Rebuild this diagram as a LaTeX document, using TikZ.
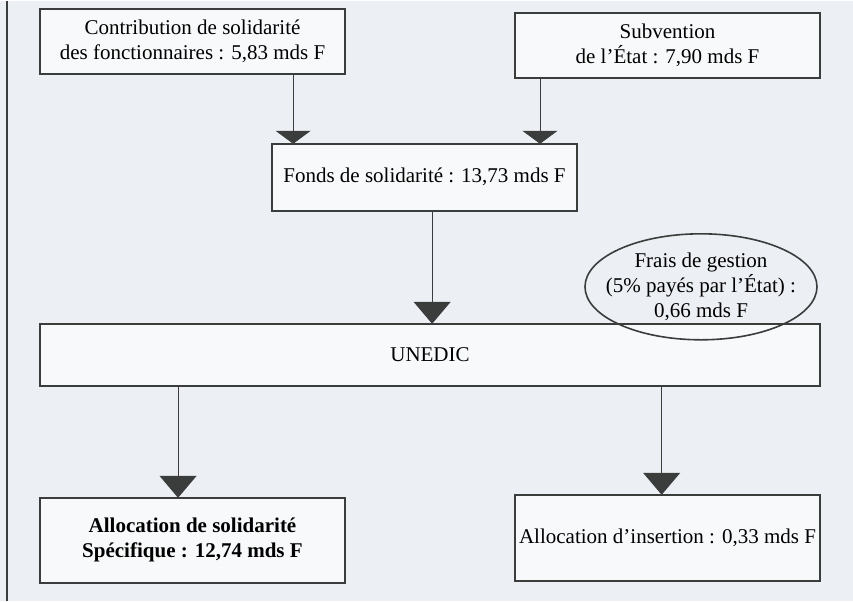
\documentclass[tikz,border=0pt]{standalone}
\usepackage{fontspec}
\setmainfont{Liberation Serif}[Ligatures={ResetAll,Common}]
\usetikzlibrary{shapes.geometric,arrows.meta,calc}
\definecolor{paper}{HTML}{ECEFF3}
\definecolor{ink}{HTML}{3A3D3C}
\definecolor{boxfill}{HTML}{F8F9FA}

\tikzset{
  box/.style={draw=ink, line width=0.8pt, fill=boxfill, inner sep=0pt, outer sep=0pt,
    minimum width=152.5pt, align=center, font=\fontsize{10.5}{12.5}\selectfont},
  feed/.style={draw=ink, line width=0.5pt, -{Triangle[width=17.5pt,length=6.5pt]}},
  flow/.style={draw=ink, line width=0.5pt, -{Triangle[width=18.5pt,length=11pt]}}
}

\begin{document}
\begin{tikzpicture}[x=0.5pt,y=-0.5pt]
  \fill[paper] (0,0) rectangle (853,600);
  \draw[ink, line width=0.8pt] (7,0) -- (7,600);

  % sources
  \node[box, minimum height=32.5pt] (contrib) at (192.5,40.5) {Contribution de solidarité\\des fonctionnaires : 5,83 mds F};
  \node[box, minimum height=32.5pt] (subv) at (667.5,44.5) {Subvention\\de l'État : 7,90 mds F};
  \node[box, minimum height=33.5pt] (fonds) at (424.5,176.5) {Fonds de solidarité : 13,73 mds F};

  \node[box, minimum width=390pt, minimum height=31pt] (unedic) at (430,354) {UNEDIC};
  \node[ellipse, draw=ink, line width=0.8pt, inner sep=0pt, minimum width=116pt, minimum height=53pt,
    label={[align=center, font=\fontsize{10.5}{12.5}\selectfont]center:{Frais de gestion\\(5\% payés par l'État) :\\0,66 mds F}}]
    (frais) at (701,286) {};

  % allocations
  \node[box, minimum height=42.5pt, font=\fontsize{10.5}{12.5}\selectfont\bfseries] (ass) at (192.5,539.5) {Allocation de solidarité\\Spécifique : 12,74 mds F};
  \node[box, minimum height=43pt] (ai) at (667.5,537) {Allocation d'insertion : 0,33 mds F};

  \draw[feed] ($(contrib.south west)!0.83!(contrib.south east)$) coordinate (c1) -- (c1 |- fonds.north);
  \draw[feed] ($(subv.south west)!0.082!(subv.south east)$) coordinate (s1) -- (s1 |- fonds.north);
  \draw[flow] ($(fonds.south west)!0.525!(fonds.south east)$) coordinate (f1) -- (f1 |- unedic.north);
  \draw[flow] ($(unedic.south west)!0.177!(unedic.south east)$) coordinate (u1) -- (u1 |- ass.north);
  \draw[flow] ($(unedic.south west)!0.797!(unedic.south east)$) coordinate (u2) -- (u2 |- ai.north);
\end{tikzpicture}
\end{document}
